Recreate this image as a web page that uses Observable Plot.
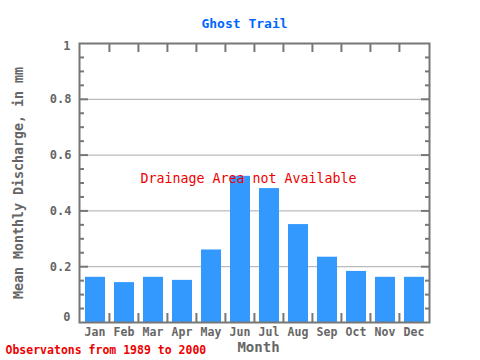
<!DOCTYPE html>
<html><head><meta charset="utf-8">
<script src="https://cdn.jsdelivr.net/npm/d3@7"></script>
<script src="https://cdn.jsdelivr.net/npm/@observablehq/plot@0.6"></script>
<style>body{margin:0;background:#fff}</style>
</head><body><div id="chart"></div>
<script>
const months = ["Jan","Feb","Mar","Apr","May","Jun","Jul","Aug","Sep","Oct","Nov","Dec"];
const discharge = [0.162,0.143,0.162,0.151,0.26,0.524,0.48,0.351,0.234,0.183,0.162,0.162];
const gridTicks = [0.2,0.4,0.6,0.8];
const minorTicks = d3.range(1,20).map(i=>i/20).filter(v=>Math.abs(v*5-Math.round(v*5))>1e-6);
const title = "Ghost Trail";
const note = "Drainage Area not Available";
const caption = "Observatons from 1989 to 2000";
const xLabel = "Month";
const yLabel = "Mean Monthly Discharge, in mm";

const W=480,H=360,ML=79,MR=51,MT=43,MB=38;
const bw=(W-ML-MR)/months.length;
const data = months.map((m,i)=>({month:m, value:discharge[i]}));
const mono = "DejaVu Sans Mono";
const grey = "#777";

const chart = Plot.plot({
  width:W, height:H, marginLeft:ML, marginRight:MR, marginTop:MT, marginBottom:MB,
  style:{fontFamily:mono, background:"#fff", color:"#666"},
  x:{domain:months, padding:0, axis:null},
  y:{domain:[0,1], axis:null},
  marks:[
    Plot.ruleY(gridTicks, {stroke:"#aaa", strokeWidth:1}),
    Plot.barY(data, {x:"month", y:"value", fill:"#3399ff", insetLeft:5, insetRight:4}),
    Plot.axisY(minorTicks, {anchor:"left", label:null, tickSize:-5, tickFormat:()=>"", stroke:grey, strokeWidth:2}),
    Plot.axisY(gridTicks, {anchor:"left", label:null, tickSize:-9, tickPadding:17, tickFormat:d3.format(".1f"), stroke:grey, strokeWidth:2, fontSize:12, fontWeight:"bold", fill:"#666"}),
    Plot.axisY(minorTicks, {anchor:"right", label:null, tickSize:-5, tickFormat:()=>"", stroke:grey, strokeWidth:2}),
    Plot.axisY(gridTicks, {anchor:"right", label:null, tickSize:-9, tickFormat:()=>"", stroke:grey, strokeWidth:2}),
    Plot.text([0], {y:d=>d, frameAnchor:"left", dx:-9, dy:-5, text:d=>"0", textAnchor:"end", fontSize:12, fontWeight:"bold", fill:"#666"}),
    Plot.text([1], {y:d=>d, frameAnchor:"left", dx:-9, dy:3, text:d=>"1", textAnchor:"end", fontSize:12, fontWeight:"bold", fill:"#666"}),
    Plot.ruleX(months.slice(1), {x:d=>d, y1:0, y2:9/(H-MT-MB), dx:-bw/2, stroke:grey, strokeWidth:2}),
    Plot.ruleX(months.slice(1), {x:d=>d, y1:1, y2:1-9/(H-MT-MB), dx:-bw/2, stroke:grey, strokeWidth:2}),
    Plot.axisX({anchor:"bottom", label:null, tickSize:0, tickPadding:5, fontSize:11.5, fontWeight:"bold", fill:"#666"}),
    Plot.frame({stroke:grey, strokeWidth:2}),
    Plot.text([note], {frameAnchor:"middle", dx:-6, dy:-4, fill:"#ee0000", fontSize:13.3}),
    Plot.text([title], {frameAnchor:"top", dx:-10, dy:-25, fill:"#0066ff", fontSize:13, fontWeight:"bold"}),
    Plot.text([xLabel], {frameAnchor:"bottom", dx:4, dy:29, fill:"#666", fontSize:14, fontWeight:"bold"}),
    Plot.text([yLabel], {frameAnchor:"left", textAnchor:"middle", dx:-61, dy:0, rotate:-90, fill:"#666", fontSize:13.3, fontWeight:"bold"}),
    Plot.text([caption], {frameAnchor:"bottom-left", dx:-74, dy:31, textAnchor:"start", fill:"#ee0000", fontSize:11.5, fontWeight:"bold"})
  ]
});
document.getElementById("chart").appendChild(chart);
</script></body></html>
